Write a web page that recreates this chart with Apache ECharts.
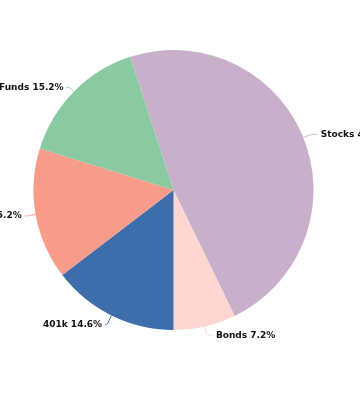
<!DOCTYPE html>
<html><head><meta charset="utf-8">
<script src="https://cdn.jsdelivr.net/npm/echarts@6/dist/echarts.min.js"></script>
<style>html,body{margin:0;padding:0;background:#fff}#c{width:360px;height:402px}</style>
</head><body><div id="c"></div>
<script>
var categories = ['Stocks', 'Bonds', '401k', 'Cash', 'Funds'];
var values = [47.8, 7.2, 14.6, 15.2, 15.2];
var colors = ['#c9b0ca', '#fdd5d1', '#3d6eab', '#f79b8a', '#8bc9a2'];
var lineLen = [[9, 6], [9, 6], [10, 2], [8, 3], [6, 3]];
var chart = echarts.init(document.getElementById('c'));
chart.setOption({
  animation: false,
  series: [{
    type: 'pie',
    center: [173.5, 190],
    radius: 140,
    startAngle: 108,
    clockwise: true,
    avoidLabelOverlap: false,
    data: categories.map(function (n, i) {
      return { name: n, value: values[i], itemStyle: { color: colors[i] },
        labelLine: { length: lineLen[i][0], length2: lineLen[i][1] } };
    }),
    label: {
      formatter: function (p) { return p.name + ' ' + p.value.toFixed(1) + '%'; },
      fontFamily: 'DejaVu Sans',
      fontWeight: 'bold',
      fontSize: 9,
      color: '#111',
      distanceToLabelLine: 3
    },
    labelLine: { smooth: true, lineStyle: { width: 1 } }
  }]
});
</script></body></html>
